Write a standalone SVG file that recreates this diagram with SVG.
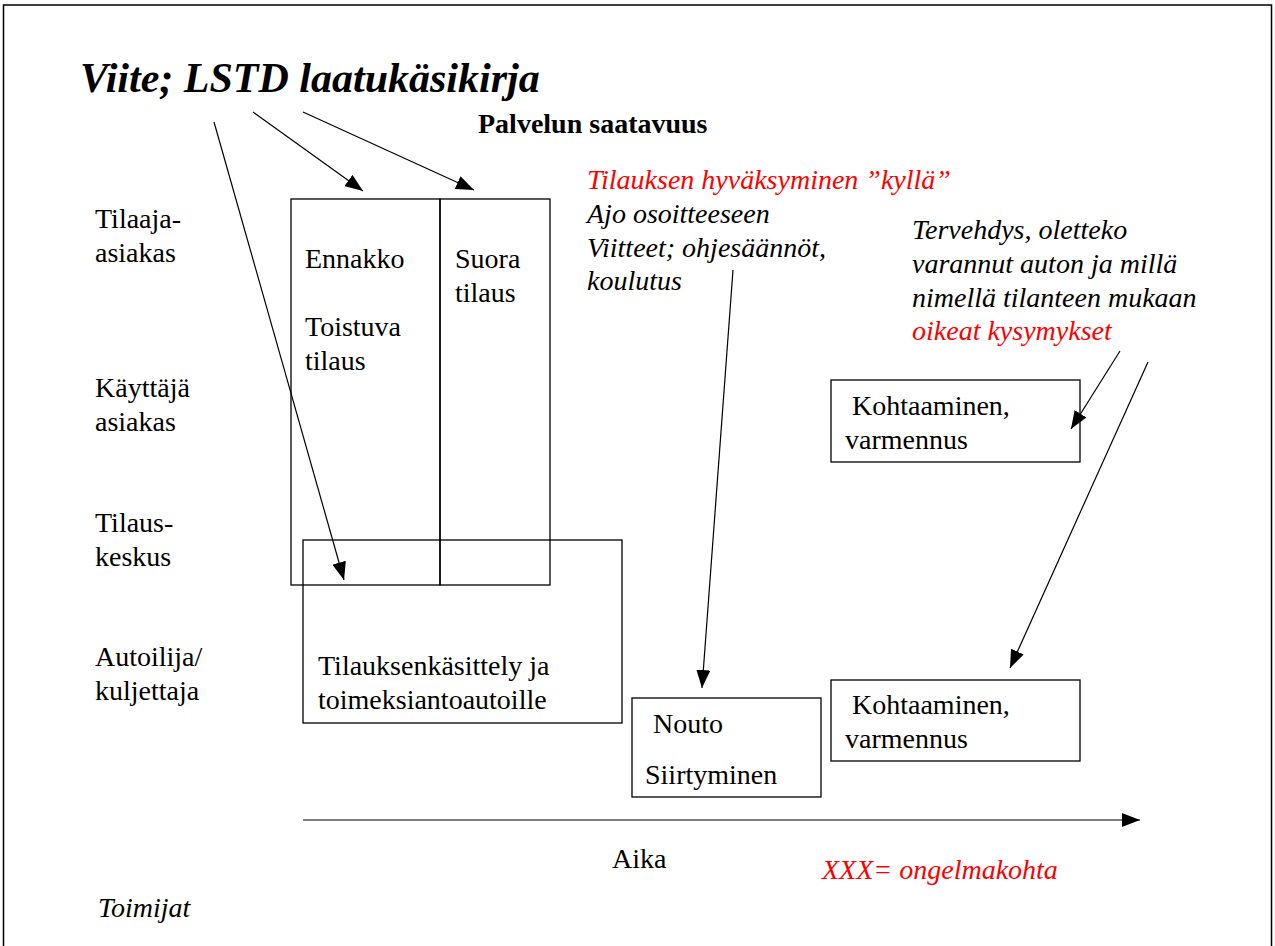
<svg xmlns="http://www.w3.org/2000/svg" width="1275" height="946" viewBox="0 0 1275 946">
  <defs>
    <marker id="arrow" viewBox="0 0 18 14" refX="18" refY="7" markerWidth="18" markerHeight="14" markerUnits="userSpaceOnUse" orient="auto">
      <path d="M0,0 L18,7 L0,14 z" fill="#000"/>
    </marker>
    <style>
      text { font-family: "Liberation Serif", "Times New Roman", serif; font-size: 28px; fill: #000; }
      .it { font-style: italic; }
      .red { fill: #ff0000; }
      .box { fill: none; stroke: #000; stroke-width: 1.3; }
      .conn { fill: none; stroke: #000; stroke-width: 1.2; marker-end: url(#arrow); }
    </style>
  </defs>

  <rect width="1275" height="946" fill="#fff"/>
  <!-- page frame -->
  <rect x="3.5" y="5" width="1268" height="950" fill="none" stroke="#000" stroke-width="1.5"/>

  <!-- headings -->
  <text x="80" y="92" style="font-size:42px;font-weight:bold;font-style:italic">Viite; LSTD laatukäsikirja</text>
  <text x="478" y="133" style="font-weight:bold">Palvelun saatavuus</text>

  <!-- actor rows -->
  <g id="actors">
    <text x="95" y="228">Tilaaja-</text>
    <text x="95" y="262">asiakas</text>
    <text x="95" y="397">Käyttäjä</text>
    <text x="95" y="431">asiakas</text>
    <text x="95" y="532">Tilaus-</text>
    <text x="95" y="566">keskus</text>
    <text x="95" y="666">Autoilija/</text>
    <text x="95" y="700">kuljettaja</text>
    <text x="98" y="917" class="it">Toimijat</text>
  </g>

  <!-- process boxes -->
  <g id="ennakko">
    <rect class="box" x="291" y="199" width="149" height="386"/>
    <text x="305" y="268">Ennakko</text>
    <text x="305" y="336">Toistuva</text>
    <text x="305" y="370">tilaus</text>
  </g>
  <g id="suora">
    <rect class="box" x="440" y="199" width="110" height="386"/>
    <text x="455" y="268">Suora</text>
    <text x="455" y="302">tilaus</text>
  </g>
  <g id="tilauksenkasittely">
    <rect class="box" x="303" y="540" width="319" height="183"/>
    <text x="318" y="675">Tilauksenkäsittely ja</text>
    <text x="318" y="709">toimeksiantoautoille</text>
  </g>
  <g id="nouto">
    <rect class="box" x="632" y="698" width="189" height="99"/>
    <text x="653" y="733">Nouto</text>
    <text x="645" y="784">Siirtyminen</text>
  </g>
  <g id="kohtaaminen-kayttaja">
    <rect class="box" x="831" y="380" width="249" height="82"/>
    <text x="852" y="415">Kohtaaminen,</text>
    <text x="845" y="449">varmennus</text>
  </g>
  <g id="kohtaaminen-autoilija">
    <rect class="box" x="831" y="680" width="249" height="81"/>
    <text x="852" y="714">Kohtaaminen,</text>
    <text x="845" y="748">varmennus</text>
  </g>

  <!-- notes -->
  <g id="note-tilaus">
    <text x="587" y="189" class="it red">Tilauksen hyväksyminen ”kyllä”</text>
    <text x="587" y="223" class="it">Ajo osoitteeseen</text>
    <text x="587" y="257" class="it">Viitteet; ohjesäännöt,</text>
    <text x="587" y="290" class="it">koulutus</text>
  </g>
  <g id="note-tervehdys">
    <text x="912" y="239" class="it">Tervehdys, oletteko</text>
    <text x="912" y="273" class="it">varannut auton ja millä</text>
    <text x="912" y="307" class="it">nimellä tilanteen mukaan</text>
    <text x="912" y="340" class="it red">oikeat kysymykset</text>
  </g>
  <text x="612" y="868">Aika</text>
  <text x="822" y="879" class="it red">XXX= ongelmakohta</text>

  <!-- connectors -->
  <g id="connectors">
    <line class="conn" x1="253" y1="112" x2="363" y2="191"/>
    <line class="conn" x1="303" y1="112" x2="474" y2="190"/>
    <line class="conn" x1="214" y1="122" x2="344" y2="580"/>
    <line class="conn" x1="733" y1="270" x2="702" y2="688"/>
    <line class="conn" x1="1120" y1="351" x2="1071" y2="429"/>
    <line class="conn" x1="1148" y1="362" x2="1010" y2="668"/>
    <line class="conn" x1="303" y1="820" x2="1140" y2="820"/>
  </g>
</svg>
